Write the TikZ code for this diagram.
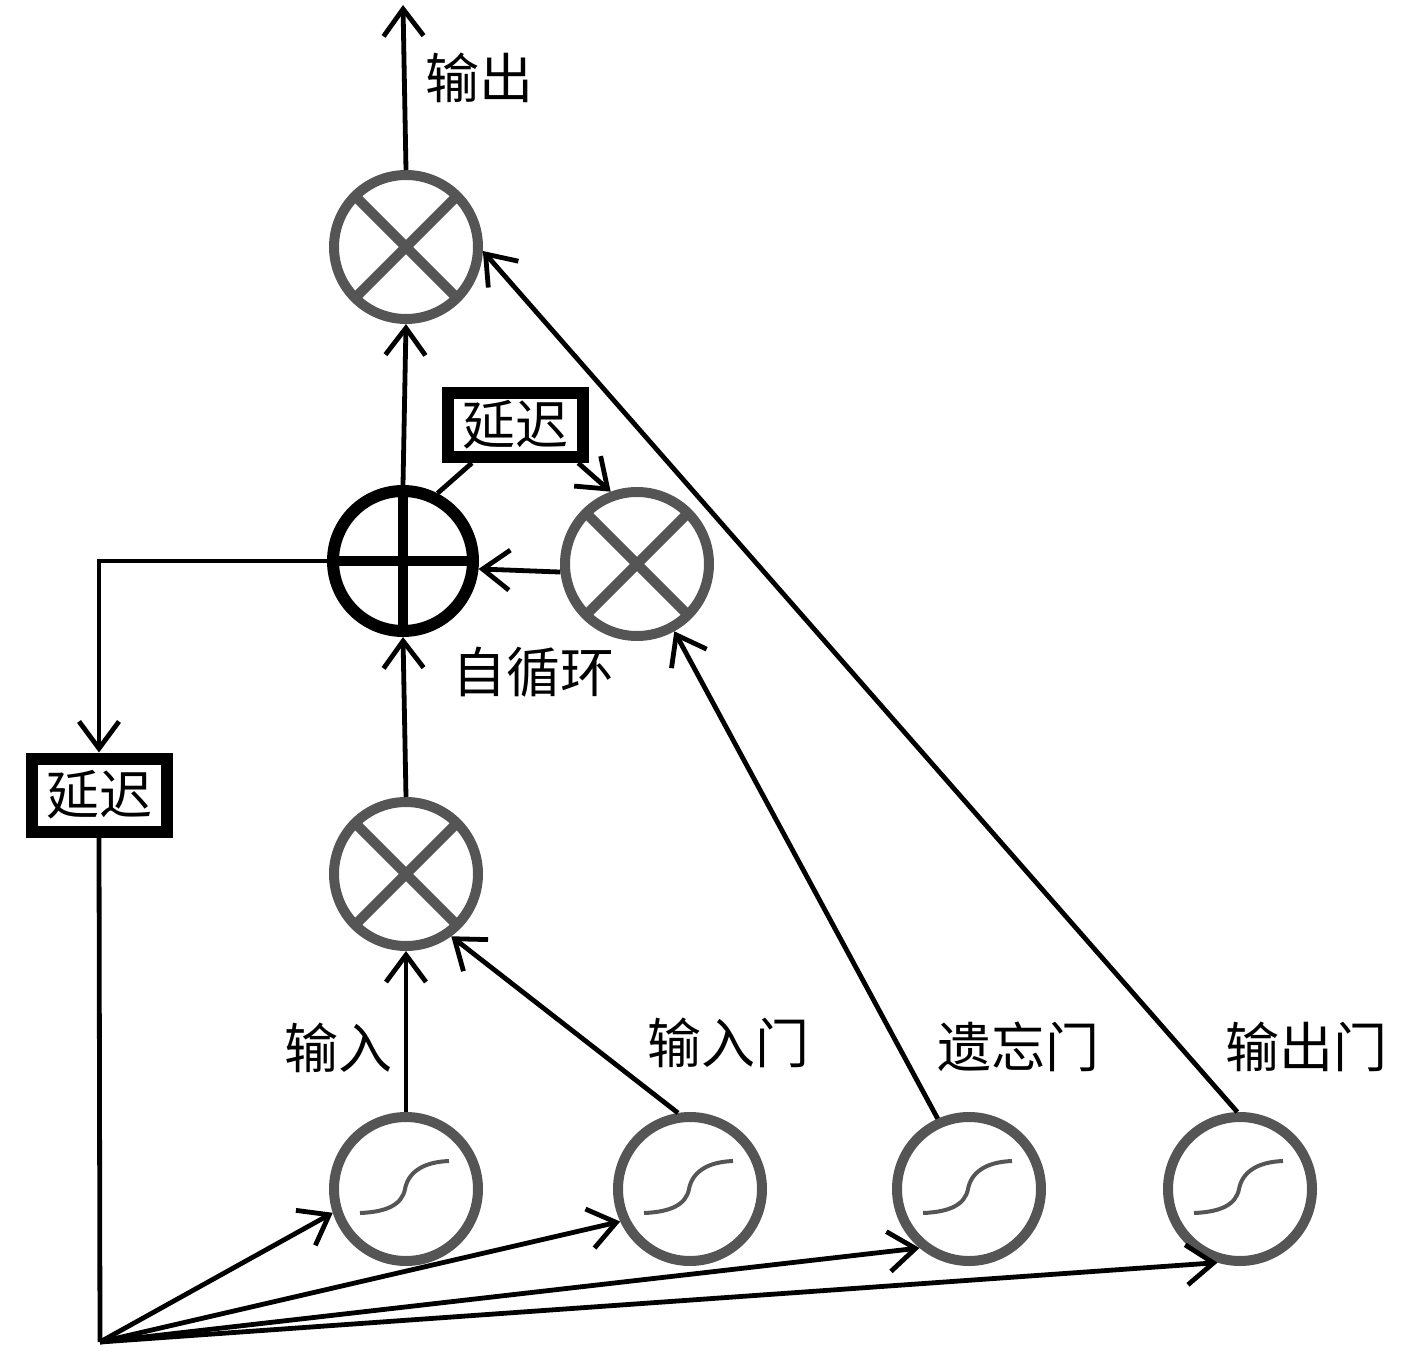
\documentclass[tikz,border=0pt]{standalone}
\usepackage{fontspec}
\newfontfamily\cjk{Noto Sans CJK SC}
\usetikzlibrary{arrows.meta}
\definecolor{ring}{HTML}{555555}
\tikzset{
  ln/.style={line width=4.8pt, black},
  arr/.style={ln, -{Straight Barb[length=27pt,width=40pt]}},
  mul/.style={circle, draw=ring, line width=10pt, minimum size=144pt, inner sep=0pt,
    path picture={\draw[ring, line width=10pt]
      (path picture bounding box.south west) -- (path picture bounding box.north east)
      (path picture bounding box.north west) -- (path picture bounding box.south east);}},
  addn/.style={circle, draw=black, line width=12pt, minimum size=140pt, inner sep=0pt,
    path picture={\draw[black, line width=10pt]
      (path picture bounding box.west) -- (path picture bounding box.east)
      (path picture bounding box.north) -- (path picture bounding box.south);}},
  sig/.style={circle, draw=ring, line width=10pt, minimum size=144pt, inner sep=0pt,
    path picture={\draw[ring, line width=4pt]
      ([shift={(-46,24)}]path picture bounding box.center)
      .. controls ([shift={(-20,23)}]path picture bounding box.center)
      and ([shift={(-4,16)}]path picture bounding box.center)
      .. ([shift={(-1,0)}]path picture bounding box.center)
      .. controls ([shift={(2,-16)}]path picture bounding box.center)
      and ([shift={(16,-27)}]path picture bounding box.center)
      .. ([shift={(43,-28)}]path picture bounding box.center);}},
  delay/.style={draw=black, fill=white, line width=12pt, minimum width=135pt, inner sep=0pt,
    font=\cjk\fontsize{53pt}{60pt}\selectfont},
  lbl/.style={inner sep=0pt, font=\cjk\fontsize{54pt}{60pt}\selectfont}
}
\begin{document}
\begin{tikzpicture}[x=1pt, y=-1pt]
\useasboundingbox (0,0) rectangle (1417,1356);
% nodes
\node[mul] (m3) at (406,247) {};
\node[addn] (s) at (403,561) {};
\node[mul] (m2) at (637,564) {};
\node[mul] (m1) at (406,874) {};
\node[delay, minimum height=64pt] (d1) at (515,425) {延迟};
\node[delay, minimum height=73pt] (d2) at (99,795) {延迟};
\node[sig] (g1) at (406,1189) {};
\node[sig] (g2) at (690,1189) {};
\node[sig] (g3) at (969,1189) {};
\node[sig] (g4) at (1240,1189) {};
\coordinate (top) at (403,5);
\coordinate (bot) at (100,1342);
% labels
\node[lbl] (lout) at (479,78) {输出};
\node[lbl] (lloop) at (533,672) {自循环};
\node[lbl] (lin) at (338,1048) {输入};
\node[lbl] (lig) at (728,1043) {输入门};
\node[lbl] (lfg) at (1018,1047) {遗忘门};
\node[lbl] (log) at (1306,1047) {输出门};
% connectors
\draw[arr] (m3.north) -- (top);
\draw[arr] (s.north) -- (m3.south);
\draw[arr] (m1.north) -- (s.south);
\draw[arr] (g1.north) -- (m1.south);
\draw[arr] (g2.99) -- (m1.306);
\draw[arr] (g3.114) -- (m2.299);
\draw[arr] (g4.92) -- (m3.357);
\draw[ln] (s.63) -- (d1);
\draw[arr] (d1.329) -- (m2.110);
\draw[arr] (m2.186) -- (s.354);
\draw[arr] (s.west) -| (d2.north);
\draw[ln] (d2.south) -- (bot);
\draw[arr] (bot) -- (g1.198);
\draw[arr] (bot) -- (g2.205);
\draw[arr] (bot) -- (g3.230);
\draw[arr] (bot) -- (g4.253);
\end{tikzpicture}
\end{document}
